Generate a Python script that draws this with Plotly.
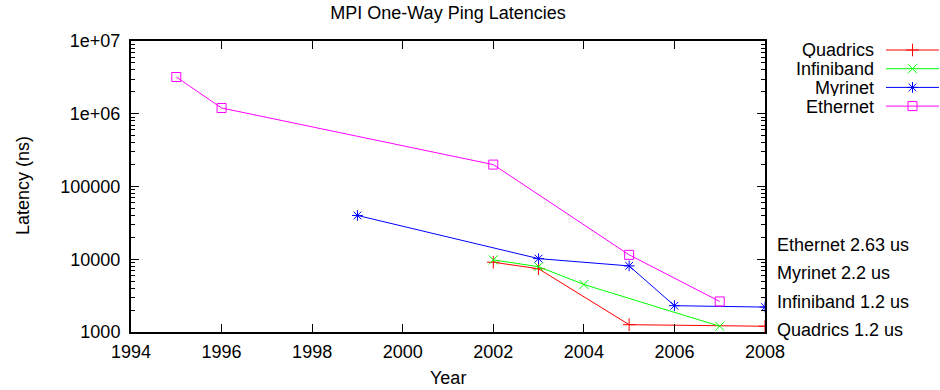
import plotly.graph_objects as go

# ---- data ----
series_names = ["Quadrics", "Infiniband", "Myrinet", "Ethernet"]
quadrics_years = [2002, 2003, 2005, 2008]
quadrics_lat = [9100, 7400, 1260, 1200]
infiniband_years = [2002, 2003, 2004, 2007]
infiniband_lat = [9800, 7900, 4500, 1200]
myrinet_years = [1999, 2003, 2005, 2006, 2008]
myrinet_lat = [40000, 10200, 8100, 2300, 2200]
ethernet_years = [1995, 1996, 2002, 2005, 2007]
ethernet_lat = [3200000, 1200000, 200000, 11500, 2630]

x_ticks = [1994, 1996, 1998, 2000, 2002, 2004, 2006, 2008]
y_ticks = [1000, 10000, 100000, 1000000, 10000000]
y_ticktext = ["1000", "10000", "100000", "1e+06", "1e+07"]

side_labels = ["Ethernet 2.63 us", "Myrinet 2.2 us", "Infiniband 1.2 us", "Quadrics 1.2 us"]

colors = ["#ff0000", "#00ff00", "#0000ff", "#ff00ff"]
symbols = ["cross-thin-open", "x-thin-open", "asterisk-open", "square-open"]

FONT = "Liberation Sans, Arial, sans-serif"
FS = 18
W, H = 940, 390
# plot box in pixels
PX0, PX1, PY0, PY1 = 131, 765, 41, 332


def px(x):
    return x / W


def py(y):
    return 1 - y / H


fig = go.Figure()
data = [(quadrics_years, quadrics_lat), (infiniband_years, infiniband_lat),
        (myrinet_years, myrinet_lat), (ethernet_years, ethernet_lat)]
for name, (xs, ys), c, s in zip(series_names, data, colors, symbols):
    fig.add_trace(go.Scatter(
        x=xs, y=ys, mode="lines+markers", name=name,
        line=dict(color=c, width=1),
        marker=dict(symbol=s, size=9, color=c, line=dict(color=c, width=1)),
        showlegend=False, xaxis="x", yaxis="y"))

# custom gnuplot-style legend (text left, sample at right) on an auxiliary axis
for i, (name, c, s) in enumerate(zip(series_names, colors, symbols)):
    yy = 3 - i
    fig.add_trace(go.Scatter(
        x=[0, 0.5, 1], y=[yy, yy, yy], mode="lines",
        line=dict(color=c, width=1), showlegend=False, hoverinfo="skip",
        xaxis="x2", yaxis="y2"))
    fig.add_trace(go.Scatter(
        x=[0.5], y=[yy], mode="markers",
        marker=dict(symbol=s, size=9, color=c, line=dict(color=c, width=1)),
        showlegend=False, hoverinfo="skip", xaxis="x2", yaxis="y2"))
    fig.add_annotation(x=px(875), y=py(50 + i * 18.7), xref="paper", yref="paper",
                       text=name, showarrow=False, xanchor="right", yanchor="middle",
                       height=17, borderpad=0,
                       font=dict(family=FONT, size=FS, color="black"))

# right-side labels
for i, t in enumerate(side_labels):
    fig.add_annotation(x=px(775), y=py(245 + i * 28.4), xref="paper", yref="paper",
                       text=t, showarrow=False, xanchor="left", yanchor="middle",
                       font=dict(family=FONT, size=FS, color="black"))

# axis titles
fig.add_annotation(x=px(448), y=py(378), xref="paper", yref="paper", text="Year",
                   showarrow=False, xanchor="center", yanchor="middle",
                   font=dict(family=FONT, size=FS, color="black"))
fig.add_annotation(x=px(23), y=py(186), xref="paper", yref="paper", text="Latency (ns)",
                   showarrow=False, xanchor="center", yanchor="middle", textangle=-90,
                   font=dict(family=FONT, size=FS, color="black"))

fig.update_layout(
    width=W, height=H,
    margin=dict(l=0, r=0, t=0, b=0),
    paper_bgcolor="white", plot_bgcolor="white",
    font=dict(family=FONT, size=FS, color="black"),
    title=dict(text="MPI One-Way Ping Latencies", x=px(448), xanchor="center",
               y=py(13), yanchor="middle", font=dict(size=FS)),
    xaxis=dict(domain=[px(PX0), px(PX1)], range=[1994, 2008], tickvals=x_ticks,
               ticks="inside", ticklen=8,
               tickcolor="black", tickwidth=1, showline=True, linecolor="black",
               linewidth=2, mirror="ticks", showgrid=False, zeroline=False,
               tickfont=dict(size=FS), automargin=False, anchor="y",
               ticklabelstandoff=2),
    yaxis=dict(domain=[py(PY1), py(PY0)], type="log", range=[3, 7], tickvals=y_ticks,
               ticktext=y_ticktext,
               ticks="inside", ticklen=8, tickcolor="black", tickwidth=1,
               showline=True, linecolor="black", linewidth=2, mirror="ticks",
               showgrid=False, zeroline=False,
               minor=dict(ticks="inside", ticklen=4, tickcolor="black", dtick="D1",
                          showgrid=False),
               tickfont=dict(size=FS), automargin=False, anchor="x",
               ticklabelstandoff=5),
    xaxis2=dict(domain=[px(886), px(939)], range=[0, 1], visible=False,
                anchor="y2", fixedrange=True),
    yaxis2=dict(domain=[py(50 + 3 * 18.7 + 9.35), py(50 - 9.35)], range=[-0.5, 3.5],
                visible=False, anchor="x2", fixedrange=True),
)

fig.write_html("out.html")
